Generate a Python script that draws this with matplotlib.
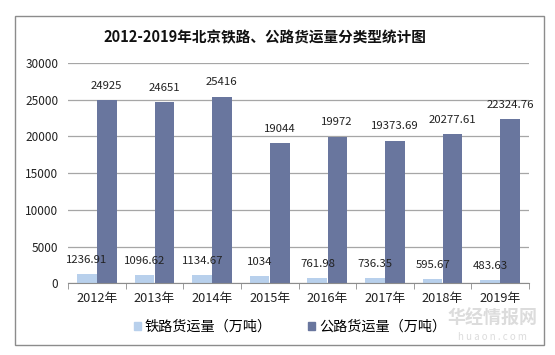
import matplotlib
matplotlib.use("Agg")
import matplotlib.pyplot as plt
from matplotlib.patches import Rectangle
import numpy as np

plt.rcParams['font.family'] = ['Noto Sans CJK SC', 'DejaVu Sans']

years = ['2012年', '2013年', '2014年', '2015年', '2016年', '2017年', '2018年', '2019年']
rail = [1236.91, 1096.62, 1134.67, 1034, 761.98, 736.35, 595.67, 483.63]
road = [24925, 24651, 25416, 19044, 19972, 19373.69, 20277.61, 22324.76]
rail_labels = ['1236.91', '1096.62', '1134.67', '1034', '761.98', '736.35', '595.67', '483.63']
road_labels = ['24925', '24651', '25416', '19044', '19972', '19373.69', '20277.61', '22324.76']
title = '2012-2019年北京铁路、公路货运量分类型统计图'
series_names = ['铁路货运量（万吨）', '公路货运量（万吨）']

c_rail = '#b8d0ec'
c_road = '#69769e'

W, H = 555, 355
fig = plt.figure(figsize=(W/100, H/100), dpi=100)
fig.patch.set_facecolor('white')

# outer frame
fig.patches.append(Rectangle((15/W, 1-345/H), (544-15)/W, (345-16)/H,
                             transform=fig.transFigure, fill=False,
                             edgecolor='#8c8c8c', linewidth=1.0))

ax = fig.add_axes([68/W, 1-283.3/H, (529-68)/W, (283.3-63)/H])
x = np.arange(len(years))
w = 0.34
ax.bar(x - w/2 - 0.005, rail, width=w, color=c_rail, zorder=3)
ax.bar(x + w/2 + 0.005, road, width=w, color=c_road, zorder=3)

for i in range(len(years)):
    ax.annotate(rail_labels[i], (x[i] - w/2, rail[i]), xytext=(0, 10),
                textcoords='offset points', ha='center', va='center',
                fontsize=8.2, color='#222222')
    ax.annotate(road_labels[i], (x[i] + w/2, road[i]), xytext=(0, 10.5),
                textcoords='offset points', ha='center', va='center',
                fontsize=8.2, color='#222222')

ax.set_xlim(-0.5, len(years) - 0.5)
ax.set_ylim(0, 30000)
ax.set_yticks(np.arange(0, 30001, 5000))
ax.tick_params(axis='y', length=0, labelsize=8.5, pad=7, colors='#222222')
ax.set_xticks(x)
ax.set_xticklabels(years)
ax.tick_params(axis='x', length=0, labelsize=9.2, pad=6, colors='#222222')
ax.set_xticks(np.arange(-0.5, len(years), 1), minor=True)
ax.tick_params(axis='x', which='minor', length=4, color='#8c8c8c', direction='out')
ax.grid(axis='y', color='#a6a6a6', linewidth=0.9, zorder=0)
for s in ['top', 'right', 'left']:
    ax.spines[s].set_visible(False)
ax.spines['bottom'].set_color('#8c8c8c')
ax.spines['bottom'].set_zorder(4)

fig.text(265/W, 1-37/H, title, ha='center', va='center', fontsize=10.5,
         fontweight='bold', color='#111111')

# legend
handles = [Rectangle((0, 0), 1, 1, color=c_rail), Rectangle((0, 0), 1, 1, color=c_road)]
fig.legend(handles, series_names, loc='center', bbox_to_anchor=(290/W, 1-327/H),
           ncol=2, frameon=False, fontsize=10.2, handlelength=0.5, handleheight=0.5,
           handletextpad=0.25, columnspacing=2.6)

# watermark
fig.text(492/W, 1-318/H, '华经情报网', ha='center', va='center', fontsize=13,
         fontweight='bold', color='#dcdcdc', zorder=0)
fig.text(492/W, 1-337/H, 'h u a o n . c o m', ha='center', va='center', fontsize=7,
         color='#dcdcdc', zorder=0)

fig.savefig('out.png', dpi=100, facecolor='white')
